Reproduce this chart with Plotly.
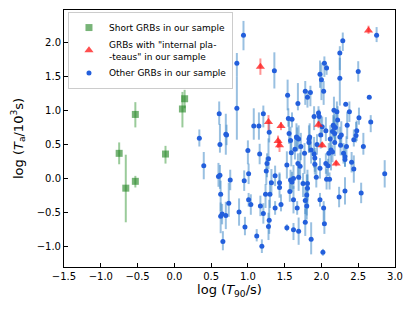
import plotly.graph_objects as go

# Short GRBs (green squares)
short_x = [-0.75, -0.66, -0.53, -0.53, -0.12, 0.11, 0.14]
short_y = [0.37, -0.14, 0.94, -0.04, 0.36, 1.02, 1.17]
short_up = [0.16, 0.49, 0.18, 0.08, 0.12, 0.25, 0.13]
short_dn = [0.16, 0.50, 0.19, 0.09, 0.14, 0.27, 0.14]

# GRBs with "internal plateaus" (red triangles)
ip_x = [1.17, 2.64, 1.28, 1.45, 1.41, 1.43, 1.96, 2.01, 2.20]
ip_y = [1.64, 2.17, 0.83, 0.77, 0.55, 0.49, 0.79, 0.49, 0.22]
ip_up = [0.12, 0.07, 0.10, 0.06, 0.08, 0.08, 0.05, 0.04, 0.04]
ip_dn = [0.12, 0.05, 0.12, 0.06, 0.10, 0.10, 0.05, 0.04, 0.04]

# Other GRBs (blue dots)
oth_x = [0.73, 0.94, 0.85, 1.36, 1.54, 0.85, 0.61, 1.08, 1.15, 1.21,
         1.29, 1.55, 1.60, 1.68, 1.78, 1.81, 1.85, 1.98, 2.00, 2.04,
         2.07, 2.03, 2.25, 2.29, 2.25, 2.50, 2.75, 2.65, 2.33, 1.90,
         1.96, 1.97, 2.17, 2.21, 2.51, 2.67, 0.71, 0.34, 0.40, 0.62,
         0.70, 1.00, 1.16, 1.28, 1.26, 1.25, 1.37, 1.32, 1.43, 1.01,
         0.95, 0.76, 0.60, 0.62, 1.53, 1.56, 1.59, 1.58, 2.35, 2.48,
         2.47, 2.44, 2.57, 2.16, 2.19, 2.15, 2.18, 2.06, 1.99, 2.25,
         2.27, 2.26, 2.18, 2.13, 2.10, 2.15, 2.30, 2.32, 2.32, 2.34,
         2.41, 2.44, 1.67, 1.69, 1.58, 1.83, 1.83, 1.86, 1.77, 1.90,
         1.91, 1.91, 1.64, 1.68, 1.71, 2.06, 2.09, 1.98, 2.86, 1.93,
         2.07, 2.11, 1.62, 1.69, 1.75, 1.81, 0.63, 0.63, 0.66, 0.65,
         0.70, 0.74, 0.88, 0.96, 1.01, 1.04, 1.12, 1.19, 1.17, 1.21,
         1.24, 1.30, 1.29, 1.28, 1.37, 1.43, 1.45, 1.53, 1.57, 1.62,
         1.62, 1.67, 1.69, 1.81, 1.80, 1.78, 1.80, 1.78, 1.86, 1.98,
         2.03, 2.04, 2.02, 2.24, 2.32, 2.54, 2.01, 1.84, 1.66, 1.60,
         2.17, 2.22, 2.38, 1.72, 1.94, 2.12]
oth_y = [2.07, 2.10, 1.69, 1.58, 1.22, 1.03, 0.95, 0.77, 0.77, 0.95,
         0.68, 0.88, 0.87, 1.10, 1.28, 1.19, 1.26, 1.53, 1.45, 1.69,
         1.62, 1.28, 1.84, 2.02, 1.47, 1.57, 2.10, 1.19, 1.09, 0.91,
         0.96, 0.91, 1.00, 0.98, 0.89, 0.83, 0.64, 0.59, 0.19, 0.50,
         0.65, 0.41, 0.36, 0.29, 0.22, 0.11, 0.04, -0.06, -0.06, 0.07,
         -0.03, -0.02, 0.03, 0.05, 0.20, 0.66, 0.38, -0.02, 0.78, 0.70,
         0.63, 0.57, 0.47, 0.78, 0.75, 0.69, 0.66, 0.70, 0.64, 0.61,
         0.64, 0.49, 0.53, 0.42, 0.37, 0.39, 0.37, 0.32, 0.28, 0.47,
         0.24, 0.14, 0.60, 0.58, 0.56, 0.58, 0.53, 0.42, 0.37, 0.36,
         0.30, 0.21, 0.43, 0.22, 0.18, 0.22, 0.19, 0.15, 0.07, 0.02,
         -0.01, -0.01, 0.00, 0.02, -0.07, -0.07, -0.23, -0.55, -0.92, -0.52,
         -0.54, -0.36, -0.49, -0.71, -0.31, -0.38, -0.84, -0.99, -0.40, -0.51,
         -0.23, -0.23, -0.61, -0.70, -0.43, -0.13, -0.38, -0.72, -0.19, -0.31,
         -0.75, -0.43, -0.77, -0.14, -0.24, -0.32, -0.40, -0.64, -0.89, -0.31,
         -0.43, -0.66, -1.08, -0.27, -0.18, -0.21, 0.76, 0.61, 0.61, -0.05,
         0.76, 0.86, 0.98, 0.47, 0.50, 0.58]
oth_up = [0.24, 0.21, 0.15, 0.27, 0.23, 0.47, 0.18, 0.26, 0.20, 0.12,
          0.15, 0.15, 0.10, 0.30, 0.15, 0.10, 0.10, 0.20, 0.25, 0.10,
          0.05, 0.15, 0.10, 0.12, 0.30, 0.15, 0.12, 0.02, 0.03, 0.15,
          0.10, 0.10, 0.20, 0.15, 0.15, 0.10, 0.15, 0.13, 0.20, 0.30,
          0.30, 0.15, 0.15, 0.30, 0.15, 0.20, 0.15, 0.20, 0.15, 0.15,
          0.15, 0.15, 0.20, 0.15, 0.20, 0.25, 0.20, 0.15, 0.20, 0.15,
          0.20, 0.15, 0.20, 0.15, 0.20, 0.10, 0.15, 0.20, 0.25, 0.15,
          0.20, 0.10, 0.15, 0.20, 0.15, 0.10, 0.15, 0.15, 0.10, 0.15,
          0.15, 0.20, 0.15, 0.20, 0.20, 0.20, 0.10, 0.20, 0.15, 0.25,
          0.15, 0.20, 0.20, 0.15, 0.20, 0.15, 0.10, 0.15, 0.20, 0.20,
          0.15, 0.10, 0.20, 0.15, 0.15, 0.20, 0.20, 0.20, 0.15, 0.15,
          0.20, 0.30, 0.20, 0.15, 0.10, 0.15, 0.10, 0.10, 0.15, 0.15,
          0.15, 0.20, 0.30, 0.20, 0.10, 0.20, 0.15, 0.05, 0.15, 0.20,
          0.10, 0.10, 0.20, 0.20, 0.30, 0.20, 0.20, 0.20, 0.25, 0.10,
          0.10, 0.20, 0.05, 0.15, 0.20, 0.15, 0.15, 0.20, 0.20, 0.15,
          0.15, 0.20, 0.15, 0.20, 0.15, 0.20]
oth_dn = [0.25, 0.22, 0.19, 0.26, 0.22, 0.46, 0.16, 0.20, 0.20, 0.20,
          0.15, 0.12, 0.12, 0.10, 0.20, 0.15, 0.20, 0.20, 0.30, 0.20,
          0.10, 0.20, 0.25, 0.15, 0.40, 0.15, 0.10, 0.02, 0.03, 0.20,
          0.15, 0.10, 0.35, 0.20, 0.10, 0.15, 0.15, 0.12, 0.20, 0.12,
          0.30, 0.20, 0.15, 0.15, 0.20, 0.20, 0.15, 0.15, 0.10, 0.15,
          0.15, 0.15, 0.15, 0.20, 0.20, 0.15, 0.20, 0.15, 0.20, 0.15,
          0.10, 0.10, 0.12, 0.10, 0.20, 0.10, 0.15, 0.15, 0.20, 0.10,
          0.15, 0.15, 0.20, 0.30, 0.15, 0.15, 0.15, 0.15, 0.10, 0.15,
          0.15, 0.20, 0.20, 0.15, 0.20, 0.20, 0.15, 0.20, 0.30, 0.20,
          0.20, 0.15, 0.15, 0.20, 0.20, 0.15, 0.15, 0.15, 0.20, 0.15,
          0.15, 0.15, 0.15, 0.20, 0.20, 0.25, 0.25, 0.25, 0.13, 0.15,
          0.20, 0.20, 0.20, 0.12, 0.10, 0.15, 0.08, 0.10, 0.15, 0.15,
          0.20, 0.20, 0.20, 0.20, 0.10, 0.15, 0.10, 0.05, 0.15, 0.20,
          0.15, 0.10, 0.20, 0.30, 0.30, 0.20, 0.20, 0.20, 0.22, 0.10,
          0.20, 0.15, 0.05, 0.15, 0.20, 0.15, 0.15, 0.20, 0.20, 0.15,
          0.15, 0.20, 0.15, 0.20, 0.15, 0.20]

x_ticks = [-1.5, -1.0, -0.5, 0.0, 0.5, 1.0, 1.5, 2.0, 2.5, 3.0]
y_ticks = [-1.0, -0.5, 0.0, 0.5, 1.0, 1.5, 2.0]

FONT = "DejaVu Sans"

fig = go.Figure()

fig.add_trace(go.Scatter(
    x=oth_x, y=oth_y, mode="markers",
    name="Other GRBs in our sample", legendrank=3,
    marker=dict(symbol="circle", size=5, color="rgb(35,95,220)"),
    error_y=dict(type="data", symmetric=False, array=oth_up, arrayminus=oth_dn,
                 color="rgba(70,140,200,0.55)", thickness=2, width=0),
))

fig.add_trace(go.Scatter(
    x=short_x, y=short_y, mode="markers",
    name="Short GRBs in our sample", legendrank=1,
    marker=dict(symbol="square", size=7, color="rgba(30,130,30,0.6)"),
    error_y=dict(type="data", symmetric=False, array=short_up, arrayminus=short_dn,
                 color="rgba(30,140,30,0.45)", thickness=2, width=0),
))

fig.add_trace(go.Scatter(
    x=ip_x, y=ip_y, mode="markers",
    name='GRBs with "internal pla-<br>-teaus" in our sample', legendrank=2,
    marker=dict(symbol="triangle-up", size=8, color="rgba(255,20,20,0.75)"),
    error_y=dict(type="data", symmetric=False, array=ip_up, arrayminus=ip_dn,
                 color="rgba(255,40,40,0.5)", thickness=2, width=0),
))

axis_common = dict(
    showline=True, linecolor="black", linewidth=1, mirror=True,
    ticks="inside", ticklen=4, tickwidth=1, tickcolor="black",
    showgrid=False, zeroline=False, tickformat=".1f", automargin=False,
    tickfont=dict(family=FONT, size=10, color="black"),
)

fig.update_layout(
    width=415, height=311,
    margin=dict(l=64, r=20, t=10, b=44),
    paper_bgcolor="white", plot_bgcolor="white",
    font=dict(family=FONT, color="black"),
    xaxis=dict(range=[-1.5, 3.0], tickvals=x_ticks,
               title=dict(text="log (<i>T</i><sub>90</sub>/s)",
                          font=dict(family=FONT, size=13), standoff=2),
               **axis_common),
    yaxis=dict(range=[-1.295, 2.47], tickvals=y_ticks,
               title=dict(text="log (<i>T</i><sub>a</sub>/10<sup>3</sup>s)",
                          font=dict(family=FONT, size=13), standoff=10),
               **axis_common),
    legend=dict(
        x=0.012, y=0.992, xanchor="left", yanchor="top",
        bgcolor="white", bordercolor="#cccccc", borderwidth=1,
        font=dict(family=FONT, size=9, color="black"),
        traceorder="normal", tracegroupgap=0,
        itemwidth=30,
    ),
    showlegend=True,
)

fig.write_html("out.html", config={"displayModeBar": False},
               post_script="document.body.style.margin='0';")
